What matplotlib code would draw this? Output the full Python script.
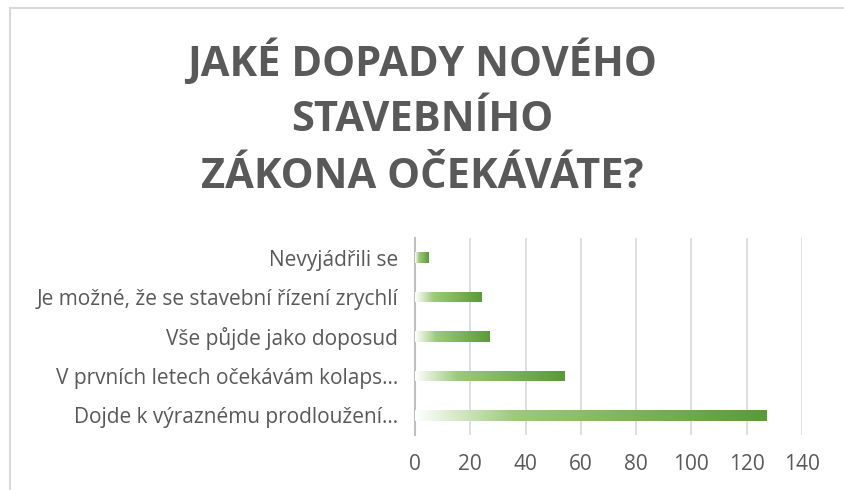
import matplotlib
matplotlib.use('Agg')
import matplotlib.pyplot as plt
import numpy as np
from matplotlib.colors import LinearSegmentedColormap
from matplotlib.lines import Line2D

# data
categories = ['Dojde k výraznému prodloužení…',
              'V prvních letech očekávám kolaps…',
              'Vše půjde jako doposud',
              'Je možné, že se stavební řízení zrychlí',
              'Nevyjádřili se']
values = [127, 54, 27, 24, 5]
xticks = [0, 20, 40, 60, 80, 100, 120, 140]
title_lines = ['JAKÉ DOPADY NOVÉHO', 'STAVEBNÍHO', 'ZÁKONA OČEKÁVÁTE?']

plt.rcParams['font.family'] = ['Open Sans', 'DejaVu Sans']
text_gray = '#595959'

fig = plt.figure(figsize=(8.45, 4.9), dpi=100)
ax = fig.add_axes([415 / 845, 1 - 435 / 490, 387 / 845, 197 / 490])

# gradient white -> light green -> dark green, stretched over each bar
cmap = LinearSegmentedColormap.from_list(
    'grn', [(0, '#ffffff'), (0.28, '#9dca7c'), (1.0, '#5a9a38')])
grad = np.linspace(0, 1, 256).reshape(1, -1)

bar_h = 0.27
y = np.arange(len(categories))
bars = ax.barh(y, values, height=bar_h, color='none', zorder=3)
for b, v in zip(bars, values):
    yb = b.get_y()
    im = ax.imshow(grad, cmap=cmap, aspect='auto', zorder=3,
                   extent=[0, v, yb, yb + bar_h], interpolation='bicubic')
    im.set_clip_path(b)

ax.set_xlim(0, 140)
ax.set_ylim(-0.5, len(categories) - 0.5)
ax.set_xticks(xticks)
ax.set_yticks(y)
ax.set_yticklabels(categories)
ax.xaxis.grid(True, color='#d9d9d9', linewidth=1.2, zorder=0)
ax.set_axisbelow(True)
for s in ['top', 'right', 'bottom']:
    ax.spines[s].set_visible(False)
ax.spines['left'].set_color('#bfbfbf')
ax.spines['left'].set_linewidth(1.5)
ax.tick_params(axis='both', length=0, colors=text_gray, labelsize=15)
ax.tick_params(axis='x', pad=14)
ax.tick_params(axis='y', pad=12)

# title, one line at a time
for yy, line in zip([63, 120, 177], title_lines):
    fig.text(0.5, 1 - yy / 490, line, ha='center', va='center',
             fontsize=30, fontweight='bold', color=text_gray)

# chart border (only top and left edges show in the crop)
bx, by = 10 / 845, 1 - 8 / 490
fig.lines.append(Line2D([bx, 1], [by, by], transform=fig.transFigure,
                        color='#d9d9d9', linewidth=1.5))
fig.lines.append(Line2D([bx, bx], [0, by], transform=fig.transFigure,
                        color='#d9d9d9', linewidth=1.5))

fig.savefig('out.png', dpi=100)
